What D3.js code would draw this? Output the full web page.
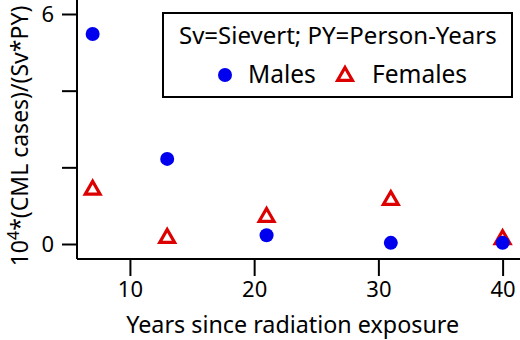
<!DOCTYPE html>
<html>
<head>
<meta charset="utf-8">
<script src="https://cdn.jsdelivr.net/npm/d3@7"></script>
<style>
  body { margin: 0; background: #fff; }
  text { font-family: "Noto Sans", sans-serif; fill: #000; }
</style>
</head>
<body>
<figure id="cml" style="margin:0"></figure>
<script>
// data
var years = [7, 13, 21, 31, 40];
var males = [5.48, 2.22, 0.23, 0.03, 0.03];
var females = [1.44, 0.18, 0.73, 1.17, 0.15];
var xTicks = [10, 20, 30, 40];
var yTicks = [0, 2, 4, 6];
var yLabels = [0, 6];

var margin = {top: 14, right: 0, bottom: 81, left: 77},
  width = 520 - margin.left - margin.right,
  height = 340 - margin.top - margin.bottom;

var svg = d3.select("figure#cml")
.append("svg")
  .attr("width", 520)
  .attr("height", 340)
.append("g")
  .attr("transform", "translate(" + margin.left + "," + margin.top + ")");

var x = d3.scaleLinear()
  .domain([5.74, 41.4])
  .range([0, width]);

// y: 0 sits 15px above the bottom axis line
var y = d3.scaleLinear()
  .domain([0, 6])
  .range([230, 0]);

// x axis
var xAxis = svg.append("g")
  .attr("transform", "translate(0," + height + ")")
  .call(d3.axisBottom(x).tickValues(xTicks).tickSize(17).tickPadding(5).tickSizeOuter(0));
xAxis.select(".domain").attr("stroke-width", 2).attr("d", "M0,0H" + width);
xAxis.selectAll(".tick line").attr("stroke-width", 2);
xAxis.selectAll("text").style("font-size", "22px");

// y axis
var yAxis = svg.append("g")
  .call(d3.axisLeft(y).tickValues(yTicks).tickSize(15).tickPadding(8)
    .tickFormat(function(d) { return yLabels.indexOf(d) >= 0 ? d : ""; }));
yAxis.select(".domain").attr("stroke-width", 2).attr("d", "M0,-14V" + height);
yAxis.selectAll(".tick line").attr("stroke-width", 2);
yAxis.selectAll("text").style("font-size", "22px");

// axis titles
svg.append("text")
  .attr("x", x(23.1))
  .attr("y", height + 74)
  .attr("text-anchor", "middle")
  .style("font-size", "23.3px")
  .text("Years since radiation exposure");

var yt = svg.append("text")
  .attr("transform", "translate(-49," + 122 + ") rotate(-90)")
  .attr("text-anchor", "middle")
  .style("font-size", "23px");
yt.append("tspan").text("10");
yt.append("tspan").attr("dy", -9).style("font-size", "16px").text("4");
yt.append("tspan").attr("dy", 9).text("*(CML cases)/(Sv*PY)");

var tri = d3.symbol().type(d3.symbolTriangle).size(95);

// females
svg.append("g")
  .selectAll("path")
  .data(years)
  .enter()
  .append("path")
    .attr("d", tri)
    .attr("transform", function(d, i) { return "translate(" + x(d) + "," + (y(females[i]) + 1) + ")"; })
    .attr("fill", "none")
    .attr("stroke", "#dd0000")
    .attr("stroke-width", 3.2);

// males
svg.append("g")
  .selectAll("circle")
  .data(years)
  .enter()
  .append("circle")
    .attr("r", 7)
    .attr("cx", function(d) { return x(d); })
    .attr("cy", function(d, i) { return y(males[i]); })
    .attr("fill", "#0000ee");

// legend
var lg = svg.append("g").attr("transform", "translate(" + (163 - margin.left) + "," + (13 - margin.top) + ")");
lg.append("rect")
  .attr("width", 349)
  .attr("height", 84)
  .attr("fill", "#fff")
  .attr("stroke", "#000")
  .attr("stroke-width", 2);
lg.append("text")
  .attr("x", 16)
  .attr("y", 31)
  .style("font-size", "24px")
  .text("Sv=Sievert; PY=Person-Years");
lg.append("circle")
  .attr("cx", 62)
  .attr("cy", 62)
  .attr("r", 7)
  .attr("fill", "#0000ee");
lg.append("text")
  .attr("x", 85)
  .attr("y", 70)
  .style("font-size", "24.5px")
  .text("Males");
lg.append("path")
  .attr("d", tri)
  .attr("transform", "translate(182,63)")
  .attr("fill", "none")
  .attr("stroke", "#dd0000")
  .attr("stroke-width", 3.2);
lg.append("text")
  .attr("x", 209)
  .attr("y", 70)
  .style("font-size", "24.5px")
  .text("Females");
</script>
</body>
</html>
